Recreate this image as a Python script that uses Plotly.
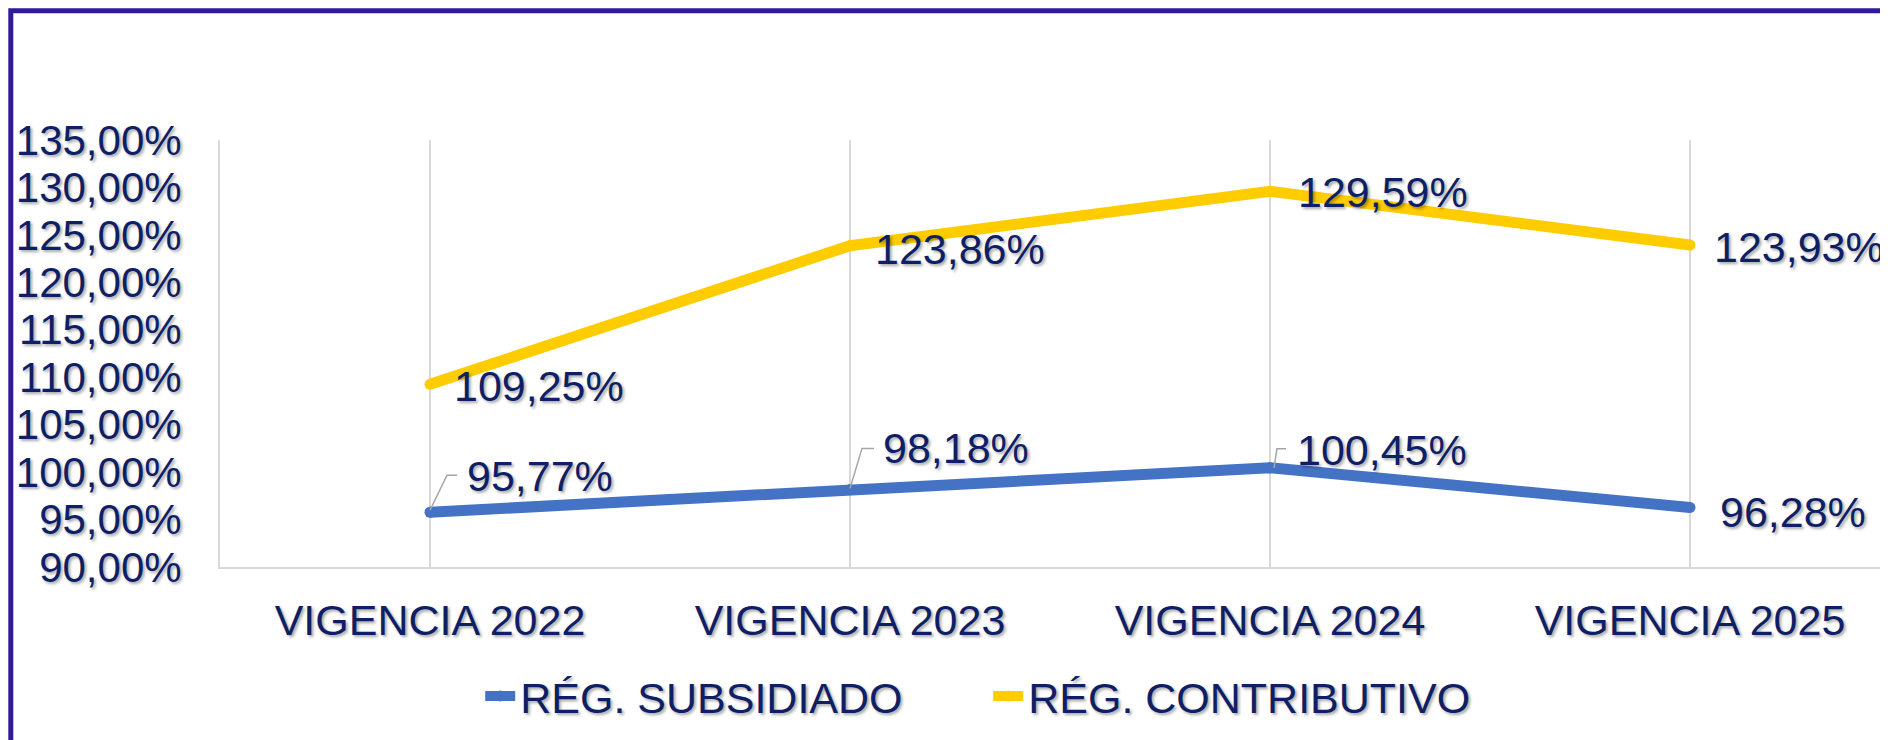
import plotly.graph_objects as go

# ---- data ----
categories = ["VIGENCIA 2022", "VIGENCIA 2023", "VIGENCIA 2024", "VIGENCIA 2025"]
subsidiado = [95.77, 98.18, 100.45, 96.28]
contributivo = [109.25, 123.86, 129.59, 123.93]
y_ticks = [90, 95, 100, 105, 110, 115, 120, 125, 130, 135]
series_names = ["RÉG. SUBSIDIADO", "RÉG. CONTRIBUTIVO"]

# ---- style ----
BLUE = "#4472C4"
GOLD = "#FFCC00"
NAVY = "#0F1F66"
GRID = "#D9D9D9"
BORDER = "#31199A"
LEADER = "#A6A6A6"
FONT = "Arial, 'Liberation Sans', sans-serif"
FS = 43
FS_Y = 42
SHADOW = "2px 2px 3px rgba(0,0,0,0.35)"

OFF = 8  # browser body margin
W, H = 1888 - OFF, 740 - OFF
L, T = 220 - OFF, 140 - OFF
B = H - (567 - OFF)
plot_w = W - L
plot_h = H - T - B
cat_w = 420

# label offsets (px): (xshift, yshift)
sub_off = [(35, 36), (31, 41), (25, 18), (28, -5)]
con_off = [(22, -2), (23, -3), (26, -1), (22, -2)]
# elbow leader paths (px, relative to point) for subsidiado labels
sub_leaders = ["M0,2 L17,37 L27,37", "M0,1 L12,41 L24,41", "M4,0 L7,19 L16,19", None]


def fmt(v):
    return f"{v:.2f}".replace(".", ",") + "%"


fig = go.Figure()
for name, vals, col in [(series_names[0], subsidiado, BLUE), (series_names[1], contributivo, GOLD)]:
    fig.add_trace(go.Scatter(
        x=list(range(len(categories))), y=vals, name=name,
        mode="lines+markers",
        line=dict(color=col, width=11),
        marker=dict(color=col, size=11, line=dict(width=0)),
        hoverinfo="skip",
    ))

annotations = []
shapes = []
for vals, offs, leaders in [(subsidiado, sub_off, sub_leaders), (contributivo, con_off, [None] * 4)]:
    for i, v in enumerate(vals):
        dx, dy = offs[i]
        annotations.append(dict(
            x=i, y=v, xref="x", yref="y", text=fmt(v), showarrow=False,
            xanchor="left", yanchor="middle", xshift=dx, yshift=dy,
            font=dict(family=FONT, size=FS, color=NAVY, shadow=SHADOW),
        ))
        if leaders[i]:
            shapes.append(dict(
                type="path", xref="x", yref="y", xsizemode="pixel", ysizemode="pixel",
                xanchor=i, yanchor=v, path=leaders[i],
                line=dict(color=LEADER, width=1.5), layer="above",
            ))

# outer border (top and left visible)
bx = 10.8 - OFF
shapes.append(dict(
    type="rect", xref="paper", yref="paper",
    x0=(bx - L) / plot_w, x1=1.05,
    y0=-0.8, y1=1 + (T - bx) / plot_h,
    line=dict(color=BORDER, width=5), fillcolor="rgba(0,0,0,0)", layer="above",
))

fig.update_layout(
    width=W, height=H,
    margin=dict(l=L, r=0, t=T, b=B, pad=0),
    paper_bgcolor="white", plot_bgcolor="white",
    font=dict(family=FONT, size=FS, color=NAVY, shadow=SHADOW),
    showlegend=True,
    legend=dict(
        orientation="h", x=0.156, y=-0.302, xanchor="left", yanchor="middle",
        font=dict(family=FONT, size=FS, color=NAVY, shadow=SHADOW),
        entrywidth=463, bgcolor="rgba(0,0,0,0)",
    ),
    annotations=annotations,
    shapes=shapes,
    xaxis=dict(
        tickmode="array", tickvals=list(range(len(categories))), ticktext=categories,
        range=[-0.5, -0.5 + plot_w / cat_w], tickson="boundaries",
        showgrid=True, gridcolor=GRID, gridwidth=2,
        showline=True, linecolor=GRID, linewidth=2,
        ticks="", ticklabelstandoff=14, zeroline=False,
        tickfont=dict(family=FONT, size=FS, color=NAVY, shadow=SHADOW),
    ),
    yaxis=dict(
        range=[90, 135], tickmode="array", tickvals=y_ticks,
        ticktext=[fmt(v) for v in y_ticks],
        showgrid=False, zeroline=False,
        showline=True, linecolor=GRID, linewidth=2,
        ticks="", ticklabelstandoff=28,
        tickfont=dict(family=FONT, size=FS_Y, color=NAVY, shadow=SHADOW),
    ),
)

fig.write_html("out.html")
